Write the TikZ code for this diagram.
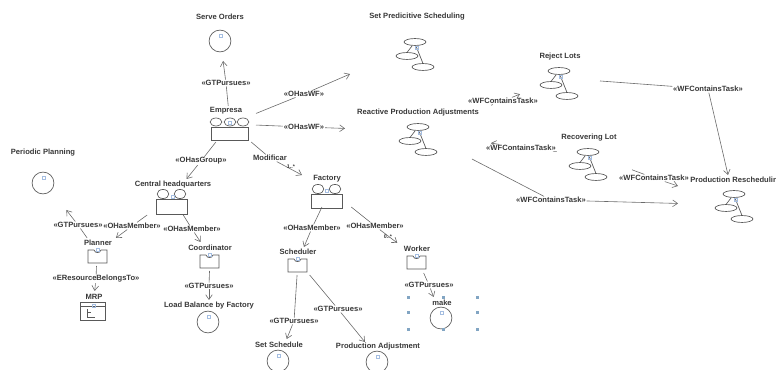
\documentclass[tikz,border=0pt]{standalone}
\usepackage{fontspec}
\setmainfont{Liberation Sans}
\usetikzlibrary{arrows.meta}
\pgfdeclarelayer{bg}
\pgfsetlayers{bg,main}
\definecolor{inktext}{gray}{0.22}
\definecolor{inkline}{gray}{0.42}
\definecolor{handleblue}{RGB}{130,165,195}
\definecolor{markblue}{RGB}{165,190,225}
\tikzset{
  port/.style 2 args={rectangle,inner sep=0pt,outer sep=0pt,minimum width=#1*0.75pt,minimum height=#2*0.75pt},
  title/.style={font=\bfseries\fontsize{5.7}{6.5}\selectfont,text=inktext,inner sep=0pt},
  lbl/.style={font=\bfseries\fontsize{5.7}{6.5}\selectfont,text=inktext,fill=white,inner sep=0.4pt},
  mult/.style={font=\bfseries\fontsize{4}{4.5}\selectfont,text=inktext,inner sep=0pt},
  link/.style={draw=inkline,line width=0.45pt},
  arrowlink/.style={link,-{Straight Barb[length=3.6pt,width=5pt]}},
  icon/.style={draw=black!65,line width=0.5pt},
  mark/.style={}
}
\newcommand{\bluemark}[2]{\draw[markblue,line width=0.35pt] (#1-1.5,#2-1.5) rectangle (#1+1.5,#2+1.5);}
\newcommand{\goalicon}[2]{\draw[icon] (#1,#2) circle[radius=8.2pt]; \bluemark{#1+0.5}{#2-5}}
% task icon: top ellipse centre
\newcommand{\taskicon}[2]{%
  \draw[icon] (#1,#2) ellipse[x radius=8.2pt,y radius=2.6pt];
  \draw[icon] (#1-8,#2+14) ellipse[x radius=8.2pt,y radius=2.6pt];
  \draw[icon] (#1+8,#2+25) ellipse[x radius=8.2pt,y radius=2.6pt];
  \draw[icon] (#1-3,#2+4) -- (#1-8,#2+10.5);
  \draw[icon] (#1+1,#2+4) -- (#1+8,#2+21.5);
  \bluemark{#1+1.5}{#2+6}}
% agent icon: top-left corner
\newcommand{\agenticon}[2]{%
  \draw[icon] (#1+6,#2) -- (#1,#2) -- (#1,#2+13) -- (#1+19,#2+13) -- (#1+19,#2) -- (#1+13,#2)
     .. controls (#1+12,#2+3.5) and (#1+7,#2+3.5) .. (#1+6,#2);
  \bluemark{#1+10}{#2}}
\begin{document}
\begin{tikzpicture}[x=0.75pt,y=-0.75pt]
\useasboundingbox (0,0) rectangle (776,370);

% invisible entity boxes
\node[port={60}{46}] (serve) at (220,38) {};
\node[port={52}{36}] (empresa) at (230,124) {};
\node[port={134}{60}] (predictive) at (417,45) {};
\node[port={146}{56}] (reactive) at (418,131) {};
\node[port={80}{50}] (reject) at (560,78) {};
\node[port={79}{50}] (recovering) at (592.5,155) {};
\node[port={114}{60}] (resched) at (735,205) {};
\node[port={60}{60}] (periodic) at (43,180) {};
\node[port={60}{36}] (central) at (172,197) {};
\node[port={40}{28}] (planner) at (97,252) {};
\node[port={40}{30}] (mrp) at (93,306) {};
\node[port={40}{29}] (coordinator) at (210,256.5) {};
\node[port={80}{36}] (balance) at (209,318) {};
\node[port={56}{34}] (factory) at (330,190) {};
\node[port={40}{28}] (scheduler) at (298,261) {};
\node[port={40}{30}] (worker) at (417,258) {};
\node[port={66}{38}] (make) at (441,316) {};
\node[port={60}{38}] (setsched) at (279,358) {};
\node[port={90}{32}] (prodadj) at (378,358) {};

% titles
\node[title] (t1) at (220,17) {Serve Orders};
\node[title] (t2) at (226,111) {Empresa};
\node[title] (t3) at (417,17) {Set Predicitive Scheduling};
\node[title] (t4) at (418,113) {Reactive Production Adjustments};
\node[title] (t5) at (560,57) {Reject Lots};
\node[title] (t6) at (589,138) {Recovering Lot};
\node[title,anchor=west] (t7) at (690,180) {Production Reschedulin};
\node[title] (t8) at (43,153) {Periodic Planning};
\node[title] (t9) at (173,185) {Central headquarters};
\node[title] (t10) at (98,243) {Planner};
\node[title] (t11) at (94,297) {MRP};
\node[title] (t12) at (210,248) {Coordinator};
\node[title] (t13) at (209,306) {Load Balance by Factory};
\node[title] (t14) at (327,179) {Factory};
\node[title] (t15) at (298,252) {Scheduler};
\node[title] (t16) at (417,249) {Worker};
\node[title] (t17) at (442,303) {make};
\node[title] (t18) at (279,345) {Set Schedule};
\node[title] (t19) at (378,347) {Production Adjustment};

% relation labels
\node[lbl] (gp1) at (226,83) {«GTPursues»};
\node[lbl] (wf1) at (304,94) {«OHasWF»};
\node[lbl] (wf2) at (304,127) {«OHasWF»};
\node[lbl] (grp) at (201,161) {«OHasGroup»};
\node[lbl] (modif) at (270,158) {Modificar};
\node[lbl] (mem1) at (132,226) {«OHasMember»};
\node[lbl] (mem2) at (192,229) {«OHasMember»};
\node[lbl] (gp2) at (78,225) {«GTPursues»};
\node[lbl] (res) at (96,279) {«EResourceBelongsTo»};
\node[lbl] (gp3) at (209,286) {«GTPursues»};
\node[lbl] (mem3) at (312,228) {«OHasMember»};
\node[lbl] (mem4) at (375,226) {«OHasMember»};
\node[lbl] (gp4) at (294,321) {«GTPursues»};
\node[lbl] (gp5) at (338,309) {«GTPursues»};
\node[lbl] (gp6) at (429,285) {«GTPursues»};
\node[lbl] (ct1) at (503,101) {«WFContainsTask»};
\node[lbl] (ct2) at (521,148) {«WFContainsTask»};
\node[lbl] (ct3) at (551,200) {«WFContainsTask»};
\node[lbl] (ct4) at (708,89) {«WFContainsTask»};
\node[lbl] (ct5) at (654,178) {«WFContainsTask»};
\node[mult] (m1) at (291,167) {1..*};
\node[mult] (m2) at (388,237) {0..*};

% connectors
\begin{pgfonlayer}{bg}
\draw[link] (empresa) -- (gp1); \draw[arrowlink] (gp1) -- (serve);
\draw[link] (empresa) -- (wf1); \draw[arrowlink] (wf1) -- (predictive);
\draw[link] (empresa) -- (wf2); \draw[arrowlink] (wf2) -- (reactive);
\draw[link] (empresa) -- (grp); \draw[arrowlink] (grp) -- (central);
\draw[link] (empresa) -- (modif); \draw[arrowlink] (modif) -- (factory);
\draw[link] (central) -- (mem1); \draw[arrowlink] (mem1) -- (planner);
\draw[link] (central) -- (mem2); \draw[arrowlink] (mem2) -- (coordinator);
\draw[link] (planner) -- (gp2); \draw[arrowlink] (gp2) -- (periodic);
\draw[link] (planner) -- (res); \draw[arrowlink] (res) -- (mrp);
\draw[link] (coordinator) -- (gp3); \draw[arrowlink] (gp3) -- (balance);
\draw[link] (factory) -- (mem3); \draw[arrowlink] (mem3) -- (scheduler);
\draw[link] (factory) -- (mem4); \draw[arrowlink] (mem4) -- (worker);
\draw[link] (scheduler) -- (gp4); \draw[arrowlink] (gp4) -- (setsched);
\draw[link] (scheduler) -- (gp5); \draw[arrowlink] (gp5) -- (prodadj);
\draw[link] (worker) -- (gp6); \draw[arrowlink] (gp6) -- (make);
\draw[link] (reactive) -- (ct1); \draw[arrowlink] (ct1) -- (reject);
\draw[link] (recovering) -- (ct2); \draw[arrowlink] (ct2) -- (reactive);
\draw[link] (reactive) -- (ct3); \draw[arrowlink] (ct3) -- (resched);
\draw[link] (reject) -- (ct4); \draw[arrowlink] (ct4) -- (resched);
\draw[link] (recovering) -- (ct5); \draw[arrowlink] (ct5) -- (resched);
\end{pgfonlayer}

% goal icons
\goalicon{220}{41}
\goalicon{43}{183}
\goalicon{208}{322}
\goalicon{441}{318}
\goalicon{278}{361}
\goalicon{377}{362}

% task icons
\taskicon{415}{42}
\taskicon{418}{127}
\taskicon{559}{71}
\taskicon{588}{152}
\taskicon{734}{194}

% groups
\draw[icon] (211,127) rectangle (248,140);
\foreach \ex in {216,230,243} {\draw[icon] (\ex,122) ellipse[x radius=4.4pt,y radius=3pt];}
\bluemark{230}{123}
\draw[icon] (156,199) rectangle (187,214);
\foreach \ex in {163,180} {\draw[icon] (\ex,194) ellipse[x radius=4.4pt,y radius=3.4pt];}
\bluemark{173}{197}
\draw[icon] (311,194) rectangle (342,208);
\foreach \ex in {318,335} {\draw[icon] (\ex,189) ellipse[x radius=4.4pt,y radius=3.4pt];}
\bluemark{327}{191}

% agents
\agenticon{88}{250}
\agenticon{200}{255}
\agenticon{288}{259}
\agenticon{407}{256}

% resource
\draw[icon] (80,302) rectangle (105,320);
\draw[icon] (80,306) -- (105,306);
\draw[icon] (87,309) -- (87,317) -- (95,317);
\draw[icon] (87,312) -- (91,312);
\bluemark{94}{306}

% selection handles round make
\foreach \hx/\hy in {408/298,443/298,477/298,408/313,477/313,408/330,443/330,477/330}
  {\fill[handleblue] (\hx-1.5,\hy-1.5) rectangle (\hx+1.5,\hy+1.5);}
\end{tikzpicture}
\end{document}
